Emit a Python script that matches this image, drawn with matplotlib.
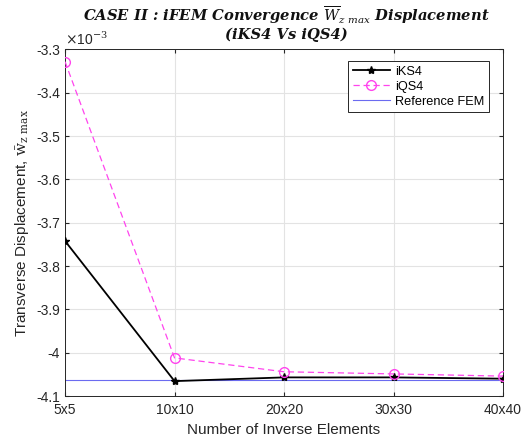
import matplotlib
matplotlib.use("Agg")
import matplotlib.pyplot as plt
from matplotlib.ticker import FuncFormatter

plt.rcParams['font.family'] = ['Liberation Sans', 'DejaVu Sans']
plt.rcParams['axes.unicode_minus'] = False
plt.rcParams['mathtext.fontset'] = 'dejavuserif'

categories = ['5x5', '10x10', '20x20', '30x30', '40x40']
iks4 = [-3.742, -4.0656, -4.057, -4.057, -4.060]   # x1e-3
iqs4 = [-3.328, -4.012, -4.044, -4.049, -4.054]    # x1e-3
ref_fem = -4.062                                    # x1e-3
yticks = [-3.3, -3.4, -3.5, -3.6, -3.7, -3.8, -3.9, -4.0, -4.1]

fig = plt.figure(figsize=(5.21, 4.41), dpi=100)
ax = fig.add_axes([0.1248, 0.102, 0.8407, 0.7858])
x = list(range(len(categories)))

ax.axhline(ref_fem, color='#6b6bf0', lw=0.8, label='Reference FEM', zorder=2)
ax.plot(x, iks4, color='black', lw=1.3, marker='*', ms=6, label='iKS4', zorder=3)
ax.plot(x, iqs4, color='#ff44ee', lw=0.9, ls=(0, (5, 3)), marker='o', ms=7,
        mfc='none', mec='#ff44ee', label='iQS4', zorder=4)

ax.set_xlim(0, 4)
ax.set_ylim(-4.1, -3.3)
ax.set_xticks(x)
ax.set_xticklabels(categories)
ax.set_yticks(yticks)
ax.yaxis.set_major_formatter(FuncFormatter(lambda v, p: '%g' % round(v, 3)))
ax.grid(True, color='#e3e3e3', lw=0.8)
ax.set_axisbelow(True)
ax.tick_params(direction='in', labelsize=10, colors='#262626', length=3, top=True, right=True,
               labeltop=False, labelright=False)
ax.tick_params(axis='x', pad=5)
for s in ax.spines.values():
    s.set_color('#262626')
    s.set_linewidth(0.7)

ax.text(0.0, 1.005, r'$\times$10$^{-3}$', transform=ax.transAxes, fontsize=10,
        color='#262626', ha='left', va='bottom')

ax.set_xlabel('Number of Inverse Elements', fontsize=11, color='#262626')
ax.set_ylabel(r'Transverse Displacement, $\bar{\mathrm{w}}_{\mathrm{z\ max}}$', fontsize=11, color='#262626')

title_kw = dict(fontsize=10.6, family='DejaVu Serif', style='italic', weight='bold',
                ha='center', va='center', color='#111111')
fig.text(286 / 521, 1 - 15 / 441, 'CASE II : iFEM Convergence $\\overline{W}_{z\\ max}$ Displacement', **title_kw)
fig.text(286 / 521, 1 - 35 / 441, '(iKS4 Vs iQS4)', **title_kw)

handles, labels = ax.get_legend_handles_labels()
order = [1, 2, 0]
leg = ax.legend([handles[i] for i in order], [labels[i] for i in order],
                loc='upper right', bbox_to_anchor=(0.982, 0.985), fontsize=9.2, frameon=True,
                fancybox=False, edgecolor='#262626', framealpha=1, borderpad=0.35,
                handlelength=2.9, handletextpad=0.4, labelspacing=0.25)
leg.get_frame().set_linewidth(0.7)

fig.savefig('out.png', dpi=100)
